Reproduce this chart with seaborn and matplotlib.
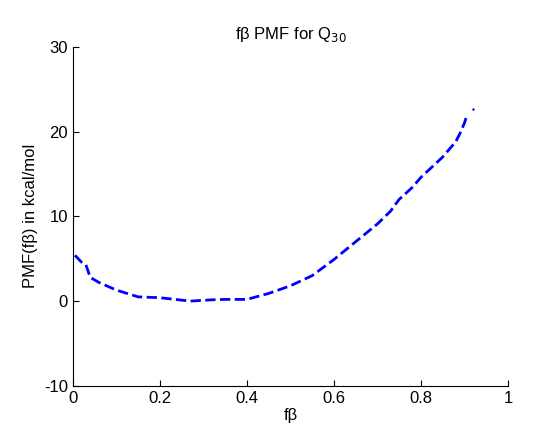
import matplotlib
matplotlib.use("Agg")
import matplotlib.pyplot as plt
import seaborn as sns
import pandas as pd

fbeta = [0.005, 0.02, 0.03, 0.04, 0.06, 0.1, 0.15, 0.2, 0.27, 0.32, 0.35, 0.4, 0.45, 0.5, 0.55, 0.6,
         0.65, 0.7, 0.73, 0.75, 0.78, 0.8, 0.85, 0.88, 0.89, 0.9, 0.905]
pmf = [5.4, 4.6, 4.3, 2.8, 2.2, 1.3, 0.5, 0.4, 0.0, 0.15, 0.2, 0.2, 0.9, 1.8, 3.0, 4.9,
       7.0, 9.1, 10.6, 12.0, 13.4, 14.6, 17.0, 18.8, 19.8, 21.0, 21.8]

sns.set_style("white")
plt.rcParams['font.family'] = ['Liberation Sans', 'DejaVu Sans']
plt.rcParams['axes.unicode_minus'] = False
plt.rcParams['text.color'] = 'black'
plt.rcParams['axes.labelcolor'] = 'black'
plt.rcParams['xtick.color'] = 'black'
plt.rcParams['ytick.color'] = 'black'
fig = plt.figure(figsize=(5.6, 4.34), dpi=100)
ax = fig.add_axes([0.130, 0.111, 0.777, 0.781])
df = pd.DataFrame({"fb": fbeta, "pmf": pmf})
sns.lineplot(data=df, x="fb", y="pmf", ax=ax, color="blue", linewidth=2, linestyle="--", sort=False)
ax.plot([0.92], [22.7], ".", color="blue", markersize=1.5)
ax.set_xlim(0, 1)
ax.set_ylim(-10, 30)
ax.set_xticks([0, 0.2, 0.4, 0.6, 0.8, 1])
ax.set_xticklabels(["0", "0.2", "0.4", "0.6", "0.8", "1"])
ax.set_yticks([-10, 0, 10, 20, 30])
ax.set_xlabel("fβ", fontsize=12, labelpad=2)
ax.set_ylabel("PMF(fβ) in kcal/mol", fontsize=12)
ax.set_title("fβ PMF for Q$_{30}$", fontsize=12)
ax.tick_params(labelsize=12, direction="in", length=4, left=True, bottom=True)
for s in ["top", "right"]:
    ax.spines[s].set_visible(False)
for s in ["left", "bottom"]:
    ax.spines[s].set_color("black")
fig.savefig("out.png", dpi=100)
